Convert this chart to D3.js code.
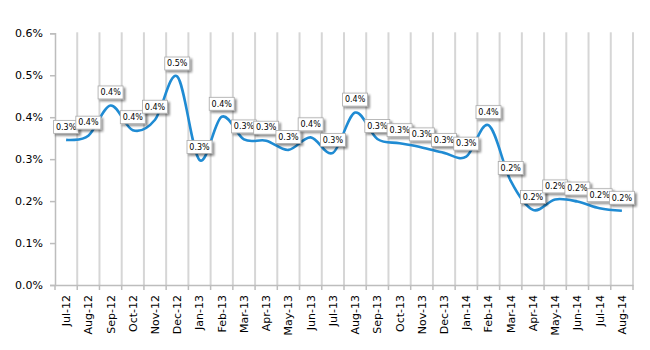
<!DOCTYPE html>
<html>
<head>
<meta charset="utf-8">
<script src="https://cdn.jsdelivr.net/npm/d3@7"></script>
<style>
  html, body { margin: 0; padding: 0; background: #fff; }
  svg { display: block; }
</style>
</head>
<body>
<svg id="chart" width="650" height="350"></svg>
<script>
// ---- data ----
const categories = ["Jul-12","Aug-12","Sep-12","Oct-12","Nov-12","Dec-12","Jan-13","Feb-13","Mar-13","Apr-13","May-13","Jun-13","Jul-13","Aug-13","Sep-13","Oct-13","Nov-13","Dec-13","Jan-14","Feb-14","Mar-14","Apr-14","May-14","Jun-14","Jul-14","Aug-14"];
const values = [0.346,0.356,0.428,0.369,0.394,0.497,0.298,0.401,0.347,0.344,0.322,0.352,0.315,0.411,0.348,0.338,0.328,0.315,0.306,0.381,0.248,0.179,0.204,0.199,0.183,0.177];
const yTicks = [0,0.1,0.2,0.3,0.4,0.5,0.6];

// ---- layout ----
const svg = d3.select("#chart");
const mLeft = 55, mRight = 633, mTop = 33.3, mBottom = 285;

const x = d3.scaleBand().domain(categories).range([mLeft, mRight]).paddingInner(0).paddingOuter(0);
const y = d3.scaleLinear().domain([0, 0.6]).range([mBottom, mTop]);
const fmt = v => d3.format(".1f")(v) + "%";

// shadow filter
const defs = svg.append("defs");
const f = defs.append("filter").attr("id","shadow").attr("x","-20%").attr("y","-20%").attr("width","160%").attr("height","180%");
f.append("feGaussianBlur").attr("in","SourceAlpha").attr("stdDeviation",1);
f.append("feOffset").attr("dx",1.5).attr("dy",1.5).attr("result","ob");
f.append("feComponentTransfer").append("feFuncA").attr("type","linear").attr("slope",0.45);
const m = f.append("feMerge");
m.append("feMergeNode");
m.append("feMergeNode").attr("in","SourceGraphic");

// vertical gridlines at category boundaries
const bounds = categories.map(c => x(c)).concat([mRight]);
svg.append("g").selectAll("line").data(bounds.slice(1)).join("line")
  .attr("x1", d => d).attr("x2", d => d)
  .attr("y1", mTop - 1).attr("y2", mBottom)
  .attr("stroke", "#d6d6d6").attr("stroke-width", 2);

// y axis
const yAxis = svg.append("g").attr("transform", `translate(${mLeft},0)`)
  .call(d3.axisLeft(y).tickValues(yTicks).tickFormat(fmt).tickSize(5).tickPadding(7));
yAxis.select(".domain").attr("stroke", "#bdbdbd").attr("stroke-width", 1.5);
yAxis.selectAll(".tick line").attr("stroke", "#bdbdbd").attr("stroke-width", 1.5);
yAxis.selectAll(".tick text").attr("font-family", "DejaVu Sans").attr("font-size", "11px").attr("fill", "#000");

// x axis
const xAxis = svg.append("g").attr("transform", `translate(0,${mBottom})`)
  .call(d3.axisBottom(x).tickSize(0).tickSizeOuter(0));
xAxis.select(".domain").attr("stroke", "#bdbdbd").attr("stroke-width", 1.5);
xAxis.selectAll(".tick text")
  .attr("font-family", "DejaVu Sans").attr("font-size", "11px").attr("fill", "#000")
  .attr("text-anchor", "end")
  .attr("transform", "rotate(-90)")
  .attr("x", -10).attr("y", 0).attr("dy", "0.36em");
// boundary ticks
svg.append("g").selectAll("line").data(bounds).join("line")
  .attr("x1", d => d).attr("x2", d => d)
  .attr("y1", mBottom).attr("y2", mBottom + 5)
  .attr("stroke", "#bdbdbd").attr("stroke-width", 1.5);

// line
const cx = c => x(c) + x.bandwidth() / 2;
const line = d3.line()
  .x((d, i) => cx(categories[i]))
  .y(d => y(d))
  .curve(d3.curveCardinal.tension(0));
svg.append("path").datum(values)
  .attr("d", line)
  .attr("fill", "none")
  .attr("stroke", "#1f8bd3")
  .attr("stroke-width", 2.6)
  .attr("stroke-linejoin", "round");

// data labels
const lg = svg.append("g");
values.forEach((v, i) => {
  const px = cx(categories[i]), py = y(v);
  const g = lg.append("g");
  g.append("rect")
    .attr("x", px - 12.5).attr("y", py - 19.5)
    .attr("width", 25).attr("height", 13)
    .attr("fill", "#fff").attr("stroke", "#a8a8a8").attr("stroke-width", 0.8)
    .attr("filter", "url(#shadow)");
  g.append("text")
    .attr("x", px).attr("y", py - 13)
    .attr("text-anchor", "middle").attr("dy", "0.35em")
    .attr("font-family", "DejaVu Sans").attr("font-size", "8px").attr("fill", "#000")
    .text(fmt(v));
});
</script>
</body>
</html>
